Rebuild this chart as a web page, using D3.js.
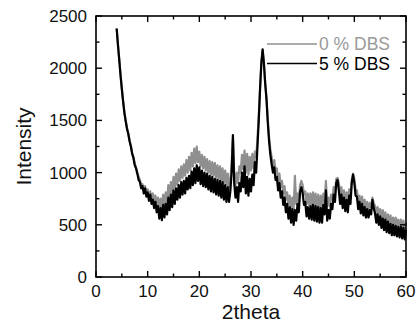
<!DOCTYPE html>
<html><head><meta charset="utf-8">
<script src="https://cdn.jsdelivr.net/npm/d3@7/dist/d3.min.js"></script>
<style>html,body{margin:0;padding:0;background:#fff;}svg{display:block;font-family:"Liberation Sans",Arial,sans-serif;}</style>
</head><body>
<svg id="c" width="419" height="324"></svg>
<script>
// 2theta grid: 4.00 .. 60.00 in steps of 0.25
const twoTheta = d3.range(0, 225).map(i => 4 + i * 0.25);

// 0 % DBS (grey)
const dbs0 = [
 2380,2230,2090,1940, 1810,1690,1580,1500, 1430,1380,1310,1260, 1190,1150,1090,1050,
 1000,960,930,880, 890,830,870,800, 840,770,820,740, 800,720,780,690,
 760,660,750,660, 790,690,810,720, 880,770,910,800, 960,850,990,880,
 1030,920,1060,950, 1080,970,1120,1000, 1150,1020,1190,1060, 1230,1090,1250,1100,
 1200,1060,1170,1040, 1150,1020,1130,1000, 1110,980,1100,970, 1090,950,1070,940,
 1060,920,1040,900, 1020,880,990,850, 930,1080,1330,1000, 880,1000,900,1060,
 1000,1170,1030,1210, 1000,1180,980,1150, 1020,1180,1040,1200, 1150,1320,1550,1800,
 2040,2170,2040,1860, 1720,1510,1340,1220, 1150,1060,1120,1010, 1040,920,990,860,
 920,800,870,740, 810,690,780,660, 760,650,970,700, 800,720,880,920,
 880,790,820,700, 800,690,800,680, 810,680,800,670, 790,660,780,660,
 800,720,920,680, 760,680,790,740, 860,800,940,950, 900,780,860,740,
 830,710,810,700, 840,760,930,990, 940,840,830,720, 780,680,770,660,
 740,640,720,640, 710,670,760,710, 680,600,670,580, 650,550,640,530,
 620,520,600,500, 590,490,570,480, 570,470,550,460, 550,450,540,440,
 520
];

// 5 % DBS (black)
const dbs5 = [
 2380,2220,2080,1930, 1800,1680,1570,1490, 1420,1370,1300,1250, 1180,1140,1070,1040,
 990,930,910,850, 870,800,850,770, 810,730,790,700, 740,660,720,620,
 680,560,660,545, 690,570,700,600, 760,640,790,670, 830,700,850,740,
 880,760,910,790, 920,800,950,840, 970,850,1010,880, 1040,900,1070,920,
 1050,890,1020,870, 1000,860,990,840, 970,820,960,810, 940,790,930,780,
 920,760,910,740, 880,720,860,720, 820,1000,1360,900, 760,860,720,900,
 820,1000,860,1060, 800,960,780,940, 820,980,880,1100, 1000,1250,1500,1800,
 2050,2180,2050,1850, 1700,1480,1300,1170, 1080,1000,1050,930, 960,830,900,760,
 820,690,760,620, 700,560,670,520, 650,500,640,540, 700,620,820,860,
 800,690,720,580, 670,560,680,550, 690,540,680,530, 670,520,660,520,
 690,600,830,540, 640,560,700,650, 790,720,900,930, 830,700,790,660,
 760,630,740,620, 780,700,900,980, 900,780,770,650, 720,610,700,590,
 670,570,650,570, 640,600,740,660, 610,520,600,500, 580,470,560,450,
 550,430,530,420, 510,400,500,400, 490,390,480,380, 480,370,470,360,
 450
];

const xTicks = [0,10,20,30,40,50,60];
const yTicks = [0,500,1000,1500,2000,2500];
const seriesNames = ["0 % DBS", "5 % DBS"];
const seriesColors = ["#8f8f8f", "#000000"];

const svg = d3.select("#c");
const L = 96, R = 406, T = 16, B = 277;
const x = d3.scaleLinear().domain([0, 60]).range([L, R]);
const y = d3.scaleLinear().domain([0, 2500]).range([B, T]);

const line = d3.line().x((d, i) => x(twoTheta[i])).y(d => y(d));
[dbs0, dbs5].forEach((s, k) => {
  svg.append("path").datum(s).attr("d", line)
    .attr("fill", "none").attr("stroke", seriesColors[k])
    .attr("stroke-width", 2.2).attr("stroke-linejoin", "round");
});

// frame
svg.append("rect").attr("x", L).attr("y", T).attr("width", R - L).attr("height", B - T)
  .attr("fill", "none").attr("stroke", "#000").attr("stroke-width", 1.6);

const xMinor = d3.range(5, 60, 10);
const yMinor = d3.range(250, 2500, 500);
const tk = svg.append("g").attr("stroke", "#000").attr("stroke-width", 1.4);
xTicks.forEach(v => {
  tk.append("line").attr("x1", x(v)).attr("x2", x(v)).attr("y1", B).attr("y2", B - 6);
  tk.append("line").attr("x1", x(v)).attr("x2", x(v)).attr("y1", T).attr("y2", T + 6);
});
xMinor.forEach(v => {
  tk.append("line").attr("x1", x(v)).attr("x2", x(v)).attr("y1", B).attr("y2", B - 3.5);
  tk.append("line").attr("x1", x(v)).attr("x2", x(v)).attr("y1", T).attr("y2", T + 3.5);
});
yTicks.forEach(v => {
  tk.append("line").attr("y1", y(v)).attr("y2", y(v)).attr("x1", L).attr("x2", L + 6);
  tk.append("line").attr("y1", y(v)).attr("y2", y(v)).attr("x1", R).attr("x2", R - 6);
});
yMinor.forEach(v => {
  tk.append("line").attr("y1", y(v)).attr("y2", y(v)).attr("x1", L).attr("x2", L + 3.5);
  tk.append("line").attr("y1", y(v)).attr("y2", y(v)).attr("x1", R).attr("x2", R - 3.5);
});

// tick labels
svg.append("g").selectAll("text").data(xTicks).join("text")
  .attr("x", d => x(d)).attr("y", 297).attr("text-anchor", "middle")
  .attr("font-size", 17).attr("fill", "#111").text(d => d);
svg.append("g").selectAll("text").data(yTicks).join("text")
  .attr("x", 87).attr("y", d => y(d) + 6).attr("text-anchor", "end")
  .attr("font-size", 17).attr("fill", "#111").text(d => d);

// axis titles
svg.append("text").attr("x", (L + R) / 2).attr("y", 319).attr("text-anchor", "middle")
  .attr("font-size", 21).attr("fill", "#111").text("2theta");
svg.append("text").attr("transform", `translate(31,${(T + B) / 2}) rotate(-90)`)
  .attr("text-anchor", "middle").attr("font-size", 21).attr("fill", "#111").text("Intensity");

// legend
seriesNames.forEach((n, k) => {
  const ly = 44 + k * 19.5;
  svg.append("line").attr("x1", 267).attr("x2", 317).attr("y1", ly).attr("y2", ly)
    .attr("stroke", seriesColors[k]).attr("stroke-width", 1.4);
  svg.append("text").attr("x", 319).attr("y", ly + 6).attr("font-size", 17.5)
    .attr("fill", k === 0 ? "#9a9a9a" : "#000").text(n);
});
</script>
</body></html>
